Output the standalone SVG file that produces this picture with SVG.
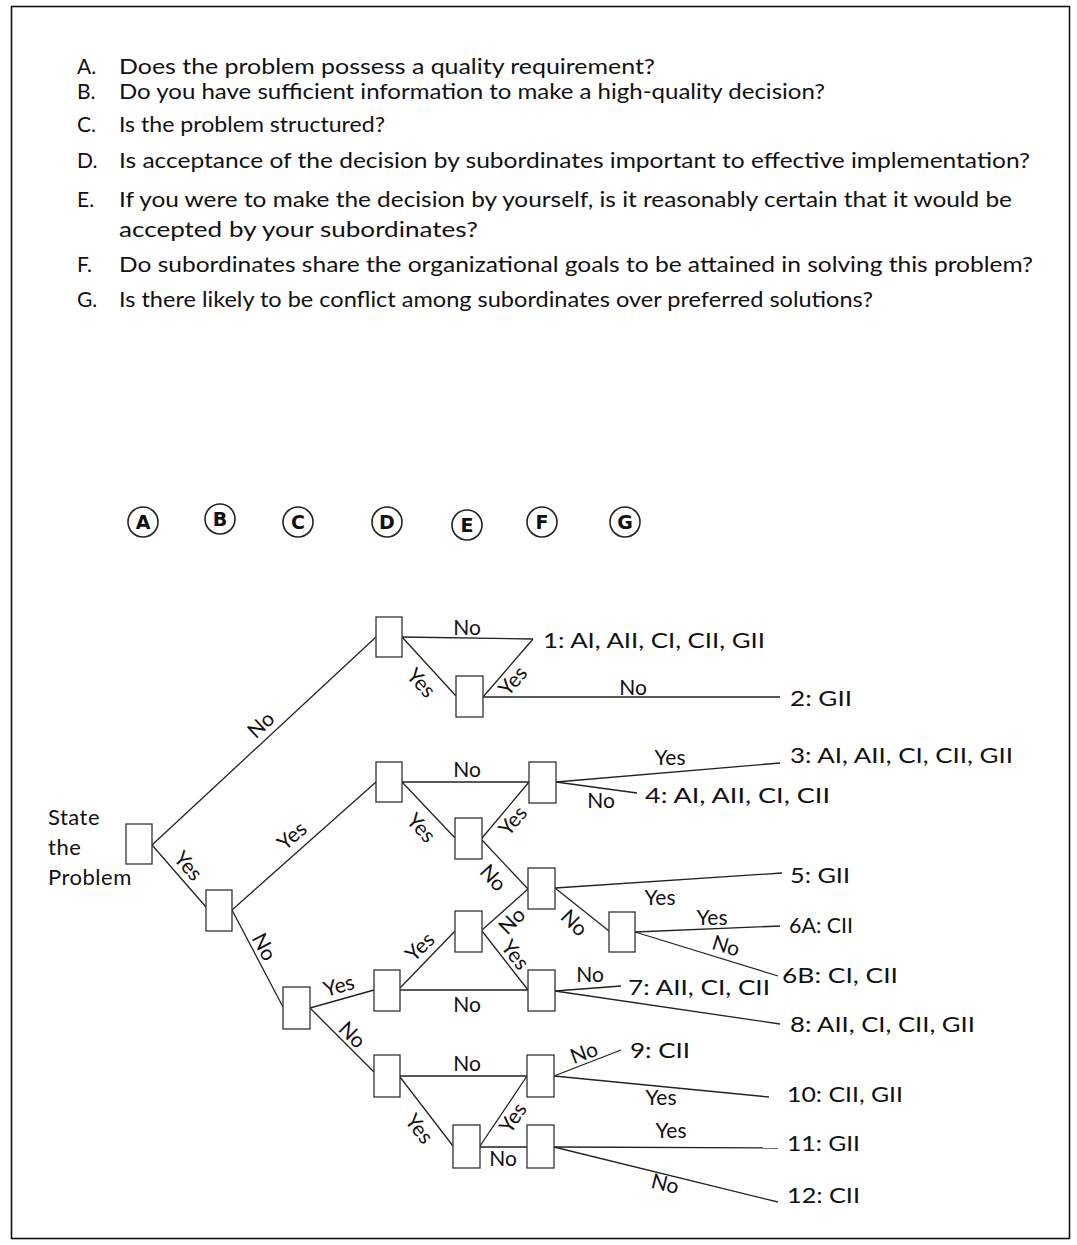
<svg xmlns="http://www.w3.org/2000/svg" width="1077" height="1245" viewBox="0 0 1077 1245">
<style>
.q{font-family:Lato,"Open Sans","Liberation Sans",sans-serif;font-size:21px;fill:#111}
.lb{font-family:Lato,"Open Sans","Liberation Sans",sans-serif;font-size:21px;fill:#111;text-anchor:middle}
.res{font-family:Lato,"Open Sans","Liberation Sans",sans-serif;font-size:21px;fill:#111}
.st{font-family:Lato,"Open Sans","Liberation Sans",sans-serif;font-size:22px;fill:#111;letter-spacing:0.5px}
.node{fill:#fff;stroke:#333;stroke-width:1.3}
.c{fill:none;stroke:#222;stroke-width:1.6}
.cl{font-family:"DejaVu Sans","Liberation Sans",sans-serif;font-size:19px;font-weight:bold;fill:#111;text-anchor:middle}
#connectors line{stroke:#222;stroke-width:1.3}
</style>
<rect x="0" y="0" width="1077" height="1245" fill="#fff"/>
<rect x="11.5" y="6.5" width="1058" height="1232" fill="none" stroke="#111" stroke-width="1.6"/>

<g id="questions">
<text class="q" x="77" y="74">A.</text>
<text class="q" x="119" y="74" textLength="536" lengthAdjust="spacingAndGlyphs">Does the problem possess a quality requirement?</text>
<text class="q" x="77" y="99">B.</text>
<text class="q" x="119" y="99" textLength="706" lengthAdjust="spacingAndGlyphs">Do you have sufficient information to make a high-quality decision?</text>
<text class="q" x="77" y="132">C.</text>
<text class="q" x="119" y="132" textLength="266" lengthAdjust="spacingAndGlyphs">Is the problem structured?</text>
<text class="q" x="77" y="168">D.</text>
<text class="q" x="119" y="168" textLength="911" lengthAdjust="spacingAndGlyphs">Is acceptance of the decision by subordinates important to effective implementation?</text>
<text class="q" x="77" y="207">E.</text>
<text class="q" x="119" y="207" textLength="893" lengthAdjust="spacingAndGlyphs">If you were to make the decision by yourself, is it reasonably certain that it would be</text>
<text class="q" x="119" y="237" textLength="359" lengthAdjust="spacingAndGlyphs">accepted by your subordinates?</text>
<text class="q" x="77" y="272">F.</text>
<text class="q" x="119" y="272" textLength="914" lengthAdjust="spacingAndGlyphs">Do subordinates share the organizational goals to be attained in solving this problem?</text>
<text class="q" x="77" y="307">G.</text>
<text class="q" x="119" y="307" textLength="754" lengthAdjust="spacingAndGlyphs">Is there likely to be conflict among subordinates over preferred solutions?</text>
</g>

<g id="column-headers">
<g id="hA"><circle class="c" cx="143" cy="522" r="15"/><text class="cl" x="143" y="529">A</text></g>
<g id="hB"><circle class="c" cx="220" cy="519" r="15"/><text class="cl" x="220" y="526">B</text></g>
<g id="hC"><circle class="c" cx="298" cy="522" r="15"/><text class="cl" x="298" y="529">C</text></g>
<g id="hD"><circle class="c" cx="387" cy="522" r="15"/><text class="cl" x="387" y="529">D</text></g>
<g id="hE"><circle class="c" cx="467" cy="525" r="15"/><text class="cl" x="467" y="532">E</text></g>
<g id="hF"><circle class="c" cx="542" cy="522" r="15"/><text class="cl" x="542" y="529">F</text></g>
<g id="hG"><circle class="c" cx="625" cy="522" r="15"/><text class="cl" x="625" y="529">G</text></g>
</g>

<g id="connectors">
<line x1="152" y1="845" x2="376" y2="637"/>
<line x1="152" y1="845" x2="206" y2="907"/>
<line x1="232" y1="910" x2="376" y2="782"/>
<line x1="232" y1="910" x2="283" y2="1007"/>
<line x1="402" y1="637" x2="533" y2="639"/>
<line x1="533" y1="639" x2="483" y2="697"/>
<line x1="402" y1="637" x2="456" y2="696"/>
<line x1="483" y1="697" x2="780" y2="697"/>
<line x1="402" y1="782" x2="529" y2="782"/>
<line x1="402" y1="782" x2="455" y2="838"/>
<line x1="482" y1="838" x2="529" y2="782"/>
<line x1="556" y1="782" x2="780" y2="763"/>
<line x1="556" y1="782" x2="637" y2="793"/>
<line x1="482" y1="840" x2="528" y2="889"/>
<line x1="482" y1="930" x2="528" y2="889"/>
<line x1="482" y1="931" x2="528" y2="990"/>
<line x1="400" y1="988" x2="455" y2="931"/>
<line x1="400" y1="990" x2="528" y2="990"/>
<line x1="310" y1="1008" x2="374" y2="990"/>
<line x1="310" y1="1008" x2="374" y2="1072"/>
<line x1="555" y1="888" x2="782" y2="873"/>
<line x1="555" y1="888" x2="609" y2="931"/>
<line x1="635" y1="932" x2="780" y2="926"/>
<line x1="635" y1="932" x2="778" y2="976"/>
<line x1="555" y1="991" x2="621" y2="986"/>
<line x1="555" y1="991" x2="780" y2="1024"/>
<line x1="400" y1="1076" x2="527" y2="1076"/>
<line x1="400" y1="1077" x2="453" y2="1146"/>
<line x1="480" y1="1146" x2="527" y2="1076"/>
<line x1="480" y1="1147" x2="527" y2="1147"/>
<line x1="554" y1="1076" x2="621" y2="1050"/>
<line x1="554" y1="1076" x2="769" y2="1097"/>
<line x1="554" y1="1147" x2="778" y2="1148"/>
<line x1="554" y1="1147" x2="778" y2="1202"/>
</g>

<g id="edge-labels">
<text class="lb" transform="translate(261,725) rotate(-43)" y="7">No</text>
<text class="lb" transform="translate(188,866) rotate(48)" y="7">Yes</text>
<text class="lb" transform="translate(292,836) rotate(-41)" y="7">Yes</text>
<text class="lb" transform="translate(264,947) rotate(62)" y="7">No</text>
<text class="lb" x="467" y="635">No</text>
<text class="lb" transform="translate(421,683) rotate(47)" y="7">Yes</text>
<text class="lb" transform="translate(513,681) rotate(-49)" y="7">Yes</text>
<text class="lb" x="633" y="695">No</text>
<text class="lb" x="467" y="777">No</text>
<text class="lb" transform="translate(421,828) rotate(47)" y="7">Yes</text>
<text class="lb" transform="translate(513,821) rotate(-50)" y="7">Yes</text>
<text class="lb" x="670" y="765">Yes</text>
<text class="lb" x="601" y="808">No</text>
<text class="lb" transform="translate(493,878) rotate(48)" y="7">No</text>
<text class="lb" transform="translate(512,921) rotate(-45)" y="7">No</text>
<text class="lb" transform="translate(515,955) rotate(52)" y="7">Yes</text>
<text class="lb" transform="translate(420,947) rotate(-44)" y="7">Yes</text>
<text class="lb" x="467" y="1012">No</text>
<text class="lb" x="590" y="982">No</text>
<text class="lb" transform="translate(574,923) rotate(45)" y="7">No</text>
<text class="lb" x="660" y="905">Yes</text>
<text class="lb" x="712" y="925">Yes</text>
<text class="lb" transform="translate(726,946) rotate(17)" y="7">No</text>
<text class="lb" transform="translate(339,986) rotate(-16)" y="7">Yes</text>
<text class="lb" transform="translate(352,1035) rotate(45)" y="7">No</text>
<text class="lb" x="467" y="1071">No</text>
<text class="lb" transform="translate(419,1129) rotate(52)" y="7">Yes</text>
<text class="lb" transform="translate(513,1118) rotate(-56)" y="7">Yes</text>
<text class="lb" x="503" y="1166">No</text>
<text class="lb" transform="translate(584,1053) rotate(-20)" y="7">No</text>
<text class="lb" x="661" y="1105">Yes</text>
<text class="lb" x="671" y="1138">Yes</text>
<text class="lb" transform="translate(665,1184) rotate(14)" y="7">No</text>
</g>

<g id="outcomes">
<text class="res" x="543" y="648" textLength="222" lengthAdjust="spacingAndGlyphs">1: AI, AII, CI, CII, GII</text>
<text class="res" x="790" y="706" textLength="62" lengthAdjust="spacingAndGlyphs">2: GII</text>
<text class="res" x="790" y="763" textLength="223" lengthAdjust="spacingAndGlyphs">3: AI, AII, CI, CII, GII</text>
<text class="res" x="645" y="803" textLength="185" lengthAdjust="spacingAndGlyphs">4: AI, AII, CI, CII</text>
<text class="res" x="790" y="883" textLength="60" lengthAdjust="spacingAndGlyphs">5: GII</text>
<text class="res" x="789" y="933" textLength="64" lengthAdjust="spacingAndGlyphs">6A: CII</text>
<text class="res" x="782" y="983" textLength="116" lengthAdjust="spacingAndGlyphs">6B: CI, CII</text>
<text class="res" x="628" y="995" textLength="142" lengthAdjust="spacingAndGlyphs">7: AII, CI, CII</text>
<text class="res" x="790" y="1032" textLength="185" lengthAdjust="spacingAndGlyphs">8: AII, CI, CII, GII</text>
<text class="res" x="630" y="1058" textLength="60" lengthAdjust="spacingAndGlyphs">9: CII</text>
<text class="res" x="787" y="1102" textLength="116" lengthAdjust="spacingAndGlyphs">10: CII, GII</text>
<text class="res" x="787" y="1151" textLength="73" lengthAdjust="spacingAndGlyphs">11: GII</text>
<text class="res" x="787" y="1203" textLength="73" lengthAdjust="spacingAndGlyphs">12: CII</text>
</g>

<g id="start-label">
<text class="st" x="48" y="825">State</text>
<text class="st" x="48" y="855">the</text>
<text class="st" x="48" y="885">Problem</text>
</g>

<g id="nodes">
<rect id="n-root" class="node" x="126" y="824" width="26" height="40"/>
<rect id="n-B" class="node" x="206" y="890" width="26" height="41"/>
<rect id="n-C" class="node" x="283" y="987" width="27" height="42"/>
<rect id="n-D1" class="node" x="376" y="617" width="26" height="40"/>
<rect id="n-D2" class="node" x="376" y="762" width="26" height="40"/>
<rect id="n-D3" class="node" x="374" y="970" width="26" height="41"/>
<rect id="n-D4" class="node" x="374" y="1055" width="26" height="42"/>
<rect id="n-E1" class="node" x="456" y="676" width="27" height="41"/>
<rect id="n-E2" class="node" x="455" y="818" width="27" height="41"/>
<rect id="n-E3" class="node" x="455" y="911" width="27" height="41"/>
<rect id="n-E4" class="node" x="453" y="1125" width="27" height="43"/>
<rect id="n-F1" class="node" x="529" y="762" width="27" height="41"/>
<rect id="n-F2" class="node" x="528" y="868" width="27" height="41"/>
<rect id="n-F3" class="node" x="528" y="970" width="27" height="41"/>
<rect id="n-F4" class="node" x="527" y="1055" width="27" height="42"/>
<rect id="n-F5" class="node" x="527" y="1125" width="27" height="43"/>
<rect id="n-G" class="node" x="609" y="912" width="26" height="40"/>
</g>
</svg>
